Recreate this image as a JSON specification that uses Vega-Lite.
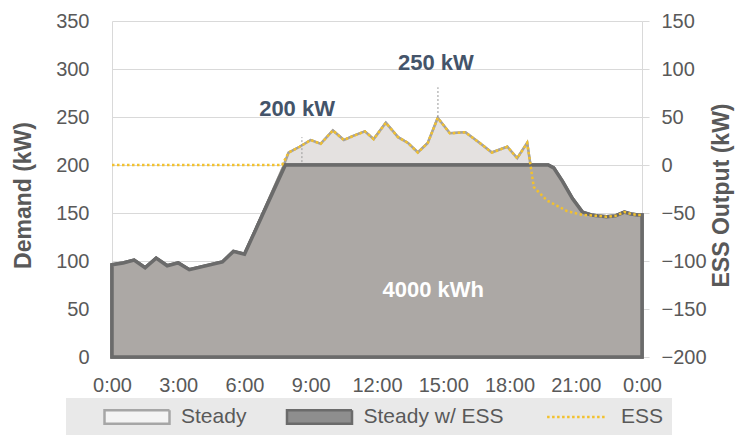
{
  "$schema": "https://vega.github.io/schema/vega-lite/v6.json",
  "width": 530,
  "height": 336,
  "autosize": "none",
  "padding": {"left": 112, "top": 21, "right": 94, "bottom": 78},
  "background": "white",
  "config": {
    "view": {"stroke": null},
    "font": "Liberation Sans",
    "axis": {"labelFont": "Liberation Sans", "titleFont": "Liberation Sans"},
    "legend": {
      "labelFont": "Liberation Sans",
      "orient": "none", "legendX": -46, "legendY": 377,
      "direction": "horizontal", "title": null,
      "fillColor": "#e9e9e9", "padding": 8,
      "symbolType": "M-1,-0.21H1V0.21H-1Z",
      "symbolSize": 4225, "clipHeight": 22,
      "symbolOffset": 29, "labelOffset": 10, "columnPadding": 9.5,
      "symbolStrokeWidth": 2.5,
      "labelFontSize": 21, "labelColor": "#595959"
    }
  },
  "datasets": {
    "steady": [
      {"h": 0, "v": 96}, {"h": 0.5, "v": 98}, {"h": 1.0, "v": 101}, {"h": 1.5, "v": 93},
      {"h": 2.0, "v": 103}, {"h": 2.5, "v": 95}, {"h": 3.0, "v": 98}, {"h": 3.5, "v": 91},
      {"h": 5.0, "v": 99}, {"h": 5.5, "v": 110}, {"h": 6.0, "v": 107}, {"h": 7.75, "v": 198},
      {"h": 8.0, "v": 213}, {"h": 8.5, "v": 219}, {"h": 9.0, "v": 226}, {"h": 9.45, "v": 222},
      {"h": 10.0, "v": 236}, {"h": 10.5, "v": 226}, {"h": 10.9, "v": 230}, {"h": 11.45, "v": 235},
      {"h": 11.85, "v": 227}, {"h": 12.4, "v": 244}, {"h": 12.95, "v": 229}, {"h": 13.4, "v": 223},
      {"h": 13.85, "v": 213}, {"h": 14.3, "v": 223}, {"h": 14.75, "v": 249}, {"h": 15.3, "v": 233},
      {"h": 16.0, "v": 234}, {"h": 16.65, "v": 223}, {"h": 17.2, "v": 213}, {"h": 17.9, "v": 219},
      {"h": 18.35, "v": 207}, {"h": 18.8, "v": 223}, {"h": 19.1, "v": 177}, {"h": 19.7, "v": 163},
      {"h": 20.2, "v": 157}, {"h": 20.6, "v": 152}, {"h": 21.3, "v": 148}, {"h": 22.0, "v": 147},
      {"h": 22.4, "v": 146}, {"h": 22.8, "v": 147}, {"h": 23.2, "v": 151}, {"h": 23.5, "v": 149},
      {"h": 23.8, "v": 148}, {"h": 24.0, "v": 148}
    ],
    "steadyEss": [
      {"h": 0, "v": 96}, {"h": 0.5, "v": 98}, {"h": 1.0, "v": 101}, {"h": 1.5, "v": 93},
      {"h": 2.0, "v": 103}, {"h": 2.5, "v": 95}, {"h": 3.0, "v": 98}, {"h": 3.5, "v": 91},
      {"h": 5.0, "v": 99}, {"h": 5.5, "v": 110}, {"h": 6.0, "v": 107}, {"h": 7.85, "v": 200},
      {"h": 19.75, "v": 200}, {"h": 20.0, "v": 197}, {"h": 20.4, "v": 183}, {"h": 20.85, "v": 165},
      {"h": 21.3, "v": 151}, {"h": 21.7, "v": 148}, {"h": 22.0, "v": 147}, {"h": 22.4, "v": 146},
      {"h": 22.8, "v": 147}, {"h": 23.2, "v": 151}, {"h": 23.5, "v": 149}, {"h": 23.8, "v": 148},
      {"h": 24.0, "v": 148}
    ],
    "ess": [
      {"h": 0, "v": 0}, {"h": 7.7, "v": 0},
      {"h": 8.0, "v": 13}, {"h": 8.5, "v": 19}, {"h": 9.0, "v": 26}, {"h": 9.45, "v": 22},
      {"h": 10.0, "v": 36}, {"h": 10.5, "v": 26}, {"h": 10.9, "v": 30}, {"h": 11.45, "v": 35},
      {"h": 11.85, "v": 27}, {"h": 12.4, "v": 44}, {"h": 12.95, "v": 29}, {"h": 13.4, "v": 23},
      {"h": 13.85, "v": 13}, {"h": 14.3, "v": 23}, {"h": 14.75, "v": 49}, {"h": 15.3, "v": 33},
      {"h": 16.0, "v": 34}, {"h": 16.65, "v": 23}, {"h": 17.2, "v": 13}, {"h": 17.9, "v": 19},
      {"h": 18.35, "v": 7}, {"h": 18.8, "v": 23}, {"h": 19.1, "v": -23}, {"h": 19.7, "v": -37},
      {"h": 20.2, "v": -43}, {"h": 20.6, "v": -48}, {"h": 21.3, "v": -52}, {"h": 22.0, "v": -53},
      {"h": 22.4, "v": -54}, {"h": 22.8, "v": -53}, {"h": 23.2, "v": -49}, {"h": 23.5, "v": -51},
      {"h": 23.8, "v": -52}, {"h": 24.0, "v": -52}
    ],
    "notes": [
      {"h": 8.38, "v": 258, "text": "200 kW"},
      {"h": 14.67, "v": 306, "text": "250 kW"}
    ],
    "energy": [
      {"h": 14.55, "v": 70, "text": "4000 kWh"}
    ],
    "leaders": [
      {"h": 8.6, "v1": 203, "v2": 229},
      {"h": 14.76, "v1": 250, "v2": 281}
    ]
  },
  "layer": [
    {
      "layer": [
        {
          "data": {"name": "steady"},
          "mark": {"type": "area", "strokeWidth": 2.5, "opacity": 1},
          "encoding": {
            "x": {
              "field": "h", "type": "quantitative", "title": null,
              "scale": {"domain": [0, 24], "nice": false, "zero": false},
              "axis": {
                "values": [0, 3, 6, 9, 12, 15, 18, 21, 24],
                "labelExpr": "(datum.value % 24) + ':00'",
                "grid": false, "ticks": false, "domain": false,
                "labelPadding": 18, "labelFontSize": 20, "labelColor": "#595959",
                "labelFlush": false, "labelOverlap": false
              }
            },
            "y": {
              "field": "v", "type": "quantitative", "title": "Demand (kW)",
              "scale": {"domain": [0, 350], "nice": false},
              "axis": {
                "values": [0, 50, 100, 150, 200, 250, 300, 350],
                "grid": true, "gridColor": "#d9d9d9", "gridWidth": 1,
                "domain": true, "domainColor": "#d9d9d9",
                "ticks": false, "labelPadding": 23,
                "labelFontSize": 20, "labelColor": "#595959",
                "titleFontSize": 23, "titleFontWeight": "bold", "titleColor": "#595959",
                "titleAngle": -90, "titleX": -89, "titleY": 174, "titleBaseline": "middle"
              }
            },
            "fill": {
              "datum": "Steady",
              "scale": {"domain": ["Steady", "Steady w/ ESS", "ESS"], "range": ["#f4f4f4", "#8e8e8e", "transparent"]},
              "legend": {"encode": {"symbols": {"update": {"shape": {"signal": "datum.value === 'ESS' ? 'M-0.92,0H0.92' : 'M-1,-0.21H1V0.21H-1Z'"}}}}}
            },
            "stroke": {
              "datum": "Steady",
              "scale": {"domain": ["Steady", "Steady w/ ESS", "ESS"], "range": ["#a6a6a6", "#6b6b6b", "#f2c12e"]},
              "legend": {"encode": {"symbols": {"update": {"shape": {"signal": "datum.value === 'ESS' ? 'M-0.92,0H0.92' : 'M-1,-0.21H1V0.21H-1Z'"}}}}}
            }
          }
        },
        {
          "data": {"name": "steady"},
          "mark": {"type": "area", "fill": "#e4e1e0", "stroke": "#a8a39b", "strokeWidth": 2.5, "opacity": 1},
          "encoding": {
            "x": {"field": "h", "type": "quantitative", "title": null},
            "y": {"field": "v", "type": "quantitative", "title": "Demand (kW)"}
          }
        },
        {
          "data": {"name": "steadyEss"},
          "mark": {"type": "area", "strokeWidth": 3.5, "opacity": 1},
          "encoding": {
            "x": {"field": "h", "type": "quantitative", "title": null},
            "y": {"field": "v", "type": "quantitative", "title": "Demand (kW)"},
            "fill": {"datum": "Steady w/ ESS", "legend": {"encode": {"symbols": {"update": {"shape": {"signal": "datum.value === 'ESS' ? 'M-0.92,0H0.92' : 'M-1,-0.21H1V0.21H-1Z'"}}}}}},
            "stroke": {"datum": "Steady w/ ESS", "legend": {"encode": {"symbols": {"update": {"shape": {"signal": "datum.value === 'ESS' ? 'M-0.92,0H0.92' : 'M-1,-0.21H1V0.21H-1Z'"}}}}}}
          }
        },
        {
          "data": {"name": "steadyEss"},
          "mark": {"type": "area", "fill": "#aca8a5", "stroke": "#6b6b6b", "strokeWidth": 3.5, "opacity": 1},
          "encoding": {
            "x": {"field": "h", "type": "quantitative", "title": null},
            "y": {"field": "v", "type": "quantitative", "title": "Demand (kW)"}
          }
        },
        {
          "data": {"name": "leaders"},
          "mark": {"type": "rule", "color": "#9a9a9a", "strokeWidth": 1, "strokeDash": [2, 2]},
          "encoding": {
            "x": {"field": "h", "type": "quantitative", "title": null},
            "y": {"field": "v1", "type": "quantitative", "title": "Demand (kW)"},
            "y2": {"field": "v2"}
          }
        },
        {
          "data": {"name": "notes"},
          "mark": {"type": "text", "fontSize": 22, "fontWeight": "bold", "color": "#44546a", "align": "center", "baseline": "middle", "font": "Liberation Sans"},
          "encoding": {
            "x": {"field": "h", "type": "quantitative", "title": null},
            "y": {"field": "v", "type": "quantitative", "title": "Demand (kW)"},
            "text": {"field": "text"}
          }
        },
        {
          "data": {"name": "energy"},
          "mark": {"type": "text", "fontSize": 22, "fontWeight": "bold", "color": "#ffffff", "align": "center", "baseline": "middle", "font": "Liberation Sans"},
          "encoding": {
            "x": {"field": "h", "type": "quantitative", "title": null},
            "y": {"field": "v", "type": "quantitative", "title": "Demand (kW)"},
            "text": {"field": "text"}
          }
        }
      ]
    },
    {
      "data": {"name": "ess"},
      "mark": {"type": "line", "strokeWidth": 2.5},
      "encoding": {
        "x": {"field": "h", "type": "quantitative", "title": null},
        "y": {
          "field": "v", "type": "quantitative", "title": "ESS Output (kW)",
          "scale": {"domain": [-200, 150], "nice": false, "zero": false},
          "axis": {
            "orient": "right",
            "values": [-200, -150, -100, -50, 0, 50, 100, 150],
            "grid": false, "domain": true, "domainColor": "#d9d9d9",
            "ticks": true, "tickColor": "#d9d9d9", "tickSize": 7,
            "labelPadding": 12, "labelFontSize": 20, "labelColor": "#595959",
            "titleFontSize": 23, "titleFontWeight": "bold", "titleColor": "#595959",
            "titleAngle": -90, "titleX": 79, "titleY": 174, "titleBaseline": "middle"
          }
        },
        "stroke": {"datum": "ESS", "legend": {"encode": {"symbols": {"update": {"shape": {"signal": "datum.value === 'ESS' ? 'M-0.92,0H0.92' : 'M-1,-0.21H1V0.21H-1Z'"}}}}}},
        "strokeDash": {
          "datum": "ESS",
          "scale": {"domain": ["Steady", "Steady w/ ESS", "ESS"], "range": [[1, 0], [1, 0], [2.5, 2.5]]},
          "legend": {"encode": {"symbols": {"update": {"shape": {"signal": "datum.value === 'ESS' ? 'M-0.92,0H0.92' : 'M-1,-0.21H1V0.21H-1Z'"}}}}}
        }
      }
    }
  ],
  "resolve": {"scale": {"y": "independent"}, "axis": {"y": "independent"}}
}
